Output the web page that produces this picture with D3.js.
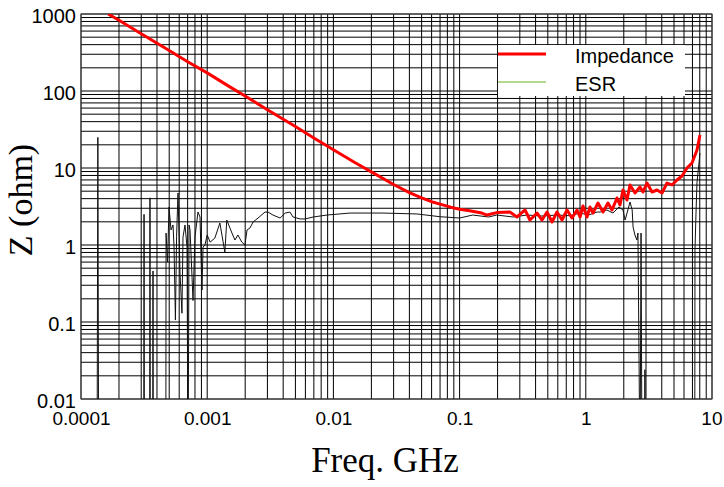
<!DOCTYPE html>
<html>
<head>
<meta charset="utf-8">
<script src="https://cdn.jsdelivr.net/npm/d3@7"></script>
<style>
body { margin: 0; background: #fff; }
svg { display: block; }
</style>
</head>
<body>
<script>
///////// data (GHz, ohm) /////////
var impFreq = [1.64e-4, 2.0e-4, 3.0e-4, 5.0e-4, 7.0e-4, 1.0e-3, 1.5e-3, 2.0e-3, 3.0e-3, 5.0e-3, 7.0e-3,
    0.01, 0.015, 0.02, 0.03, 0.04, 0.05, 0.06, 0.07, 0.085, 0.1, 0.12, 0.15, 0.165, 0.2, 0.25,
    0.285, 0.33, 0.361, 0.411, 0.45, 0.493, 0.54, 0.591, 0.648, 0.71, 0.777, 0.852, 0.9, 0.95,
    1.022, 1.08, 1.14, 1.249, 1.369, 1.499, 1.613, 1.767, 1.866, 1.971, 2.121, 2.24, 2.454, 2.689,
    2.84, 3.053, 3.346, 3.666, 4.017, 4.4, 4.819, 5.282, 5.785, 6.338, 6.942, 7.605, 8.03]
var impVal = [1000, 830, 555, 335, 240, 172, 114, 86, 57, 34.5, 24.5,
    17.3, 11.6, 8.9, 6.1, 4.8, 4.1, 3.65, 3.4, 3.1, 2.92, 2.78, 2.6, 2.45, 2.65, 2.68,
    2.31, 2.85, 2.11, 2.6, 2.11, 2.68, 1.99, 2.68, 2.11, 2.85, 2.24, 2.85, 2.31, 3.21,
    2.31, 3.11, 2.6, 3.51, 2.68, 3.51, 2.85, 4.08, 3.31, 5.18, 3.84, 6.02, 4.73, 5.67,
    4.88, 6.38, 4.88, 5.18, 4.73, 6.38, 6.02, 6.98, 7.88, 10.0, 11.6, 17.1, 26.8]

// 0.001 = below the plot (negative / missing ESR reading)
var esrFreq = [1.34e-4, 1.36e-4, 1.38e-4, 3.14e-4, 3.16e-4, 3.18e-4, 3.50e-4, 3.52e-4, 3.54e-4,
    3.70e-4, 3.72e-4, 3.74e-4, 4.70e-4, 4.72e-4, 4.85e-4, 4.98e-4, 5.17e-4, 5.36e-4, 5.46e-4,
    5.60e-4, 5.72e-4, 5.87e-4, 6.09e-4, 6.31e-4, 6.43e-4, 6.67e-4, 6.92e-4, 7.05e-4, 7.18e-4,
    7.31e-4, 7.72e-4, 8.0e-4, 8.45e-4, 8.77e-4, 9.09e-4, 9.27e-4, 9.6e-4, 1.0e-3, 1.055e-3,
    1.15e-3, 1.26e-3, 1.38e-3, 1.43e-3, 1.57e-3, 1.66e-3, 1.75e-3, 1.88e-3, 1.99e-3, 2.07e-3,
    2.18e-3, 2.31e-3, 2.53e-3, 2.87e-3, 3.03e-3, 3.32e-3, 3.78e-3, 4.15e-3, 4.52e-3, 4.79e-3,
    5.45e-3, 5.97e-3, 6.91e-3, 8.9e-3, 0.0135, 0.0247, 0.0459, 0.0699, 0.1, 0.127, 0.17, 0.197,
    0.266, 0.34, 0.45, 0.59, 0.75, 0.9, 1.05, 1.23, 1.3, 1.47, 1.64, 1.83, 1.97, 2.05, 2.24,
    2.33, 2.37, 2.45, 2.54, 2.59, 2.69, 2.74, 2.79, 2.93, 2.94, 2.95, 7.30, 7.33, 7.47, 7.6, 8.03]
var esrVal = [0.001, 25, 0.001, 0.001, 2.5, 0.001, 0.001, 4.1, 0.001,
    0.001, 0.46, 0.001, 0.001, 1.43, 0.6, 3.11, 1.57, 1.82, 0.94,
    0.106, 1.3, 4.73, 0.43, 0.13, 1.27, 1.82, 0.94, 0.001, 1.82,
    1.57, 0.19, 1.27, 2.68, 2.31, 0.26, 0.94, 1.0, 1.35, 1.09,
    1.23, 1.93, 0.81, 2.11, 1.43, 1.16, 1.35, 1.09, 1.0, 1.57,
    1.66, 1.99, 2.24, 2.68, 2.68, 2.45, 2.24, 2.6, 2.68, 2.31,
    2.18, 2.18, 2.31, 2.45, 2.6, 2.6, 2.53, 2.33, 2.24, 2.45, 2.31, 2.45,
    2.31, 2.45, 2.38, 2.45, 2.4, 2.6, 2.45, 2.68, 2.68, 2.85, 2.6, 3.11, 2.85, 2.11, 3.62,
    2.85, 1.71, 1.35, 1.16, 1.43, 0.001, 1.43, 0.001, 0.001, 0.024, 0.001, 0.001, 0.86, 2.6, 6.4, 15.6]

var xTickLabels = ['0.0001', '0.001', '0.01', '0.1', '1', '10']
var yTickLabels = ['0.01', '0.1', '1', '10', '100', '1000']
var legendNames = ['Impedance', 'ESR']
var legendColors = ['#ff0000', '#9acd6a']

///////////////////////// D3 /////////////////////////
var width = 724
var height = 487
var plotL = 81, plotR = 712, plotT = 14, plotB = 399

var x = d3.scaleLog().domain([1e-4, 10]).range([plotL, plotR])
var y = d3.scaleLog().domain([0.01, 1000]).range([plotB, plotT])

var svg = d3.select('body').append('svg').attr('width', width).attr('height', height)

// grid: every 1..9 x 10^n
var grid = svg.append('g')
grid.selectAll('line.v').data(x.ticks()).enter().append('line').attr('class', 'v')
    .attr('x1', d => x(d)).attr('x2', d => x(d)).attr('y1', plotT).attr('y2', plotB)
    .attr('stroke', '#000').attr('stroke-width', 1)
grid.selectAll('line.h').data(y.ticks()).enter().append('line').attr('class', 'h')
    .attr('x1', plotL).attr('x2', plotR).attr('y1', d => y(d)).attr('y2', d => y(d))
    .attr('stroke', '#000').attr('stroke-width', 1)
grid.append('rect').attr('x', plotL).attr('y', plotT).attr('width', plotR - plotL).attr('height', plotB - plotT)
    .attr('fill', 'none').attr('stroke', '#444').attr('stroke-width', 1)

// axes
var yAxis = d3.axisLeft(y).tickValues(yTickLabels.map(Number)).tickSize(0).tickPadding(5)
    .tickFormat((d, i) => yTickLabels[i])
var gy = svg.append('g').attr('transform', 'translate(' + plotL + ',0)').call(yAxis)
gy.select('.domain').remove()
gy.selectAll('text').attr('font-family', 'Liberation Sans, Arial, sans-serif').attr('font-size', 20)
    .attr('fill', '#000').attr('dy', '0.4em')

var xAxis = d3.axisBottom(x).tickValues(xTickLabels.map(Number)).tickSize(0).tickPadding(6)
    .tickFormat((d, i) => xTickLabels[i])
var gx = svg.append('g').attr('transform', 'translate(0,' + plotB + ')').call(xAxis)
gx.select('.domain').remove()
gx.selectAll('text').attr('font-family', 'Liberation Sans, Arial, sans-serif').attr('font-size', 19)
    .attr('fill', '#000').attr('dy', '1.05em')
gx.selectAll('text').filter((d, i) => i == xTickLabels.length - 1).attr('text-anchor', 'end').attr('x', 10)

// titles
svg.append('text').attr('transform', 'translate(32,200) rotate(-90)').attr('text-anchor', 'middle')
    .attr('font-family', 'Liberation Serif, Times New Roman, serif').attr('font-size', 34).text('Z (ohm)')
svg.append('text').attr('x', 385).attr('y', 472).attr('text-anchor', 'middle')
    .attr('font-family', 'Liberation Serif, Times New Roman, serif').attr('font-size', 35).text('Freq. GHz')

// curves
svg.append('clipPath').attr('id', 'plotclip').append('rect')
    .attr('x', plotL).attr('y', plotT).attr('width', plotR - plotL).attr('height', plotB - plotT)

var line = d3.line().x(d => x(d[0])).y(d => y(d[1]))
var curves = svg.append('g').attr('clip-path', 'url(#plotclip)')
curves.append('path').datum(d3.zip(esrFreq, esrVal)).attr('d', line)
    .attr('fill', 'none').attr('stroke', '#111').attr('stroke-width', 1)
curves.append('path').datum(d3.zip(impFreq, impVal)).attr('d', line)
    .attr('fill', 'none').attr('stroke', legendColors[0]).attr('stroke-width', 3).attr('stroke-linejoin', 'round')

// legend
var legend = svg.append('g')
legend.append('rect').attr('x', 498).attr('y', 45).attr('width', 187).attr('height', 51).attr('fill', '#fff')
legendNames.forEach((name, i) => {
    var ly = 54 + i * 28
    legend.append('line').attr('x1', 498).attr('x2', 546).attr('y1', ly).attr('y2', ly)
        .attr('stroke', legendColors[i]).attr('stroke-width', i == 0 ? 3 : 1.5)
    legend.append('text').attr('x', 575).attr('y', ly + 9).text(name)
        .attr('font-family', 'Liberation Sans, Arial, sans-serif').attr('font-size', 20)
})
</script>
</body>
</html>
